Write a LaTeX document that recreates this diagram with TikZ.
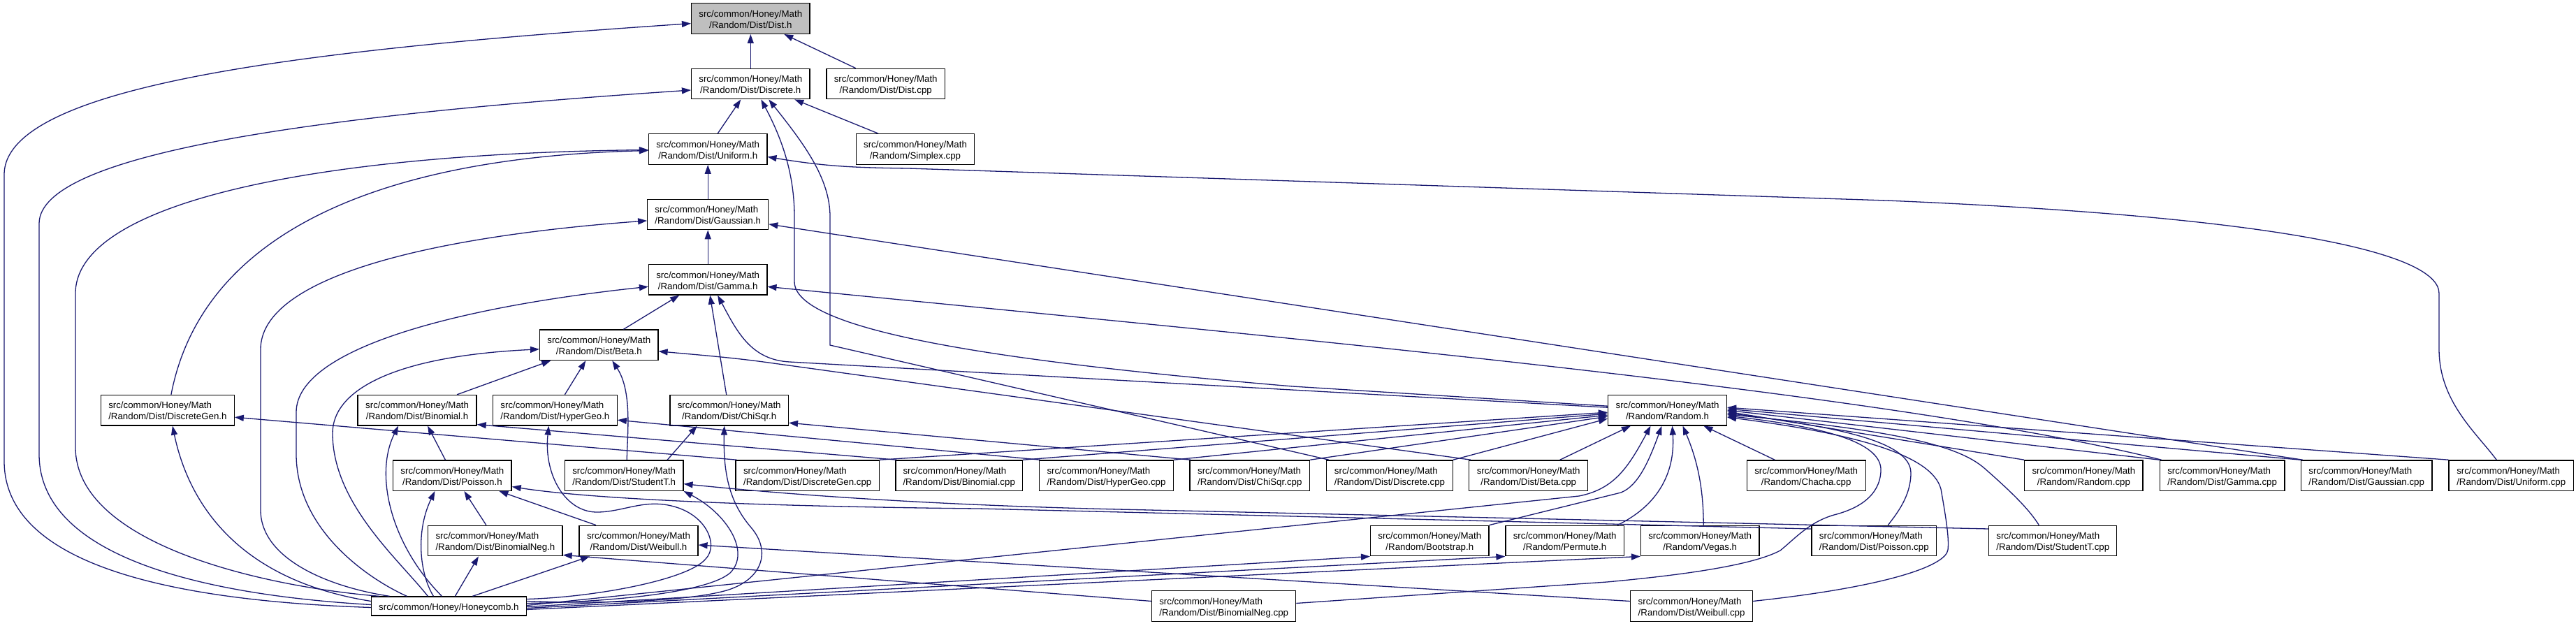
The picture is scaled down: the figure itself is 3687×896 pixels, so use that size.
\documentclass[tikz,border=0pt]{standalone}
\usepackage{fontspec}
\setmainfont{Liberation Sans}
\usetikzlibrary{arrows.meta,calc}
\definecolor{edgeblue}{RGB}{25,25,112}
\definecolor{distgray}{RGB}{191,191,191}
\newcommand\twol[2]{\raisebox{-2.5pt}[\height][\depth]{\begin{tabular}{@{}l@{}}#1\\\multicolumn{1}{@{}c@{}}{#2}\end{tabular}}}
\newcommand\onel[1]{\raisebox{-2.5pt}[\height][\depth]{#1}}
\newcommand\shm{src/common/Honey/Math}
\begin{document}
\begin{tikzpicture}[x=1pt,y=-1pt,
  box/.style={draw=black,line width=1.3pt,fill=white,inner sep=0pt,minimum height=43.5pt,font=\fontsize{13.3}{16}\selectfont},
  edge/.style={draw=edgeblue,line width=1.3pt,{Triangle[length=13pt,width=9pt]}-}]
\useasboundingbox (0,0) rectangle (3687,896);
% row 0-5
\node[box,fill=distgray,minimum width=169.4pt] (Dist) at (1074.3,26.6) {\twol{\shm}{/Random/Dist/Dist.h}};
\node[box,minimum width=169.4pt] (Discrete) at (1074.3,120.0) {\twol{\shm}{/Random/Dist/Discrete.h}};
\node[box,minimum width=169.4pt] (Distcpp) at (1267.7,120.0) {\twol{\shm}{/Random/Dist/Dist.cpp}};
\node[box,minimum width=169.3pt] (Uniform) at (1013.2,213.5) {\twol{\shm}{/Random/Dist/Uniform.h}};
\node[box,minimum width=169.3pt] (Simplex) at (1310.0,213.5) {\twol{\shm}{/Random/Simplex.cpp}};
\node[box,minimum width=172.9pt] (Gaussian) at (1013.2,306.9) {\twol{\shm}{/Random/Dist/Gaussian.h}};
\node[box,minimum width=169.3pt] (Gamma) at (1013.2,400.3) {\twol{\shm}{/Random/Dist/Gamma.h}};
\node[box,minimum width=169.4pt] (Beta) at (857.3,493.8) {\twol{\shm}{/Random/Dist/Beta.h}};
% row 6
\node[box,minimum width=190.6pt] (DiscreteGen) at (239.9,587.2) {\twol{\shm}{/Random/Dist/DiscreteGen.h}};
\node[box,minimum width=170pt] (Binomial) at (597.1,587.2) {\twol{\shm}{/Random/Dist/Binomial.h}};
\node[box,minimum width=177.6pt] (HyperGeo) at (794.4,587.2) {\twol{\shm}{/Random/Dist/HyperGeo.h}};
\node[box,minimum width=169.4pt] (ChiSqr) at (1043.7,587.2) {\twol{\shm}{/Random/Dist/ChiSqr.h}};
\node[box,minimum width=169.9pt] (Random) at (2386.5,587.2) {\twol{\shm}{/Random/Random.h}};
% row 7
\node[box,minimum width=169.4pt] (Poisson) at (647.4,680.6) {\twol{\shm}{/Random/Dist/Poisson.h}};
\node[box,minimum width=169.4pt] (StudentT) at (893.2,680.6) {\twol{\shm}{/Random/Dist/StudentT.h}};
\node[box,minimum width=205.2pt] (DiscreteGencpp) at (1155.7,680.6) {\twol{\shm}{/Random/Dist/DiscreteGen.cpp}};
\node[box,minimum width=181.6pt] (Binomialcpp) at (1372.7,680.6) {\twol{\shm}{/Random/Dist/Binomial.cpp}};
\node[box,minimum width=191.7pt] (HyperGeocpp) at (1583.5,680.6) {\twol{\shm}{/Random/Dist/HyperGeo.cpp}};
\node[box,minimum width=171.7pt] (ChiSqrcpp) at (1788.8,680.6) {\twol{\shm}{/Random/Dist/ChiSqr.cpp}};
\node[box,minimum width=180.5pt] (Discretecpp) at (1989.0,680.6) {\twol{\shm}{/Random/Dist/Discrete.cpp}};
\node[box,minimum width=169.9pt] (Betacpp) at (2187.7,680.6) {\twol{\shm}{/Random/Dist/Beta.cpp}};
\node[box,minimum width=169.9pt] (Chachacpp) at (2585.2,680.6) {\twol{\shm}{/Random/Chacha.cpp}};
\node[box,minimum width=169.3pt] (Randomcpp) at (2982.4,680.6) {\twol{\shm}{/Random/Random.cpp}};
\node[box,minimum width=178.7pt] (Gammacpp) at (3180.6,680.6) {\twol{\shm}{/Random/Dist/Gamma.cpp}};
\node[box,minimum width=187.6pt] (Gaussiancpp) at (3387.2,680.6) {\twol{\shm}{/Random/Dist/Gaussian.cpp}};
\node[box,minimum width=178.2pt] (Uniformcpp) at (3594.2,680.6) {\twol{\shm}{/Random/Dist/Uniform.cpp}};
% row 8
\node[box,minimum width=192.3pt] (BinomialNeg) at (708.9,774.0) {\twol{\shm}{/Random/Dist/BinomialNeg.h}};
\node[box,minimum width=169.9pt] (Weibull) at (914.0,774.0) {\twol{\shm}{/Random/Dist/Weibull.h}};
\node[box,minimum width=169.3pt] (Bootstrap) at (2046.3,774.0) {\twol{\shm}{/Random/Bootstrap.h}};
\node[box,minimum width=169.4pt] (Permute) at (2239.7,774.0) {\twol{\shm}{/Random/Permute.h}};
\node[box,minimum width=169.3pt] (Vegas) at (2433.2,774.0) {\twol{\shm}{/Random/Vegas.h}};
\node[box,minimum width=178.5pt] (Poissoncpp) at (2682.3,774.0) {\twol{\shm}{/Random/Dist/Poisson.cpp}};
\node[box,minimum width=183pt] (StudentTcpp) at (2938.3,774.0) {\twol{\shm}{/Random/Dist/StudentT.cpp}};
% row 9
\node[box,minimum width=221.7pt,minimum height=27pt] (Honeycomb) at (642.4,867.5) {\onel{src/common/Honey/Honeycomb.h}};
\node[box,minimum width=205.8pt] (BinomialNegcpp) at (1751.7,867.5) {\twol{\shm}{/Random/Dist/BinomialNeg.cpp}};
\node[box,minimum width=174.6pt] (Weibullcpp) at (2421.1,867.5) {\twol{\shm}{/Random/Dist/Weibull.cpp}};

% ---- Dist.h
\draw[edge] (Dist.south) -- (Discrete.north);
\draw[edge] ($(Dist.south)+(48,0)$) -- ($(Distcpp.north)+(-43,0)$);
\draw[edge] ($(Dist.west)+(0,7)$) .. controls (450,70) and (6,120) .. (6,250) -- (6,660) .. controls (6,810) and (250,860) .. ($(Honeycomb.west)+(0,2)$);
% ---- Discrete.h
\draw[edge] ($(Discrete.south)+(-14,0)$) -- ($(Uniform.north)+(14,0)$);
\draw[edge] ($(Discrete.south)+(63,0)$) -- ($(Simplex.north)+(-53,0)$);
\draw[edge] ($(Discrete.west)+(0,9)$) .. controls (450,165) and (56,220) .. (56,320) -- (56,650) .. controls (56,800) and (300,852) .. ($(Honeycomb.west)+(0,-2)$);
\draw[edge] ($(Discrete.south)+(15,0)$) .. controls (1120,200) and (1137,250) .. (1137,310) -- (1137,403) .. controls (1137,470) and (1400,515) .. (1850,553) -- ($(Random.west)+(0,-6)$);
\draw[edge] ($(Discrete.south)+(26,0)$) .. controls (1150,205) and (1188,255) .. (1188,310) -- (1188,494) -- ($(Discretecpp.north west)+(4,0)$);
% ---- Uniform.h
\draw[edge] (Uniform.south) -- (Gaussian.north);
\draw[edge] ($(Uniform.west)+(0,1)$) .. controls (450,220) and (108,290) .. (108,420) -- (108,640) .. controls (108,780) and (380,840) .. ($(Honeycomb.north west)+(12,0)$);
\draw[edge] ($(Uniform.west)+(0,2)$) .. controls (550,225) and (290,330) .. ($(DiscreteGen.north)+(5,0)$);
\draw[edge] ($(Uniform.east)+(0,11)$) .. controls (1180,238) and (1220,240) .. (1300,241) -- (2700,287) .. controls (3250,310) and (3491,360) .. (3491,420) -- (3491,500) .. controls (3491,575) and (3545,620) .. ($(Uniformcpp.north)+(-21,0)$);
% ---- Gaussian.h
\draw[edge] (Gaussian.south) -- (Gamma.north);
\draw[edge] ($(Gaussian.west)+(0,9)$) .. controls (600,340) and (373,400) .. (373,500) -- (373,730) .. controls (373,800) and (470,840) .. ($(Honeycomb.north)+(-85,0)$);
\draw[edge] ($(Gaussian.east)+(0,14)$) -- ($(Gaussiancpp.north west)+(3,0)$);
% ---- Gamma.h
\draw[edge] ($(Gamma.south)+(-41,0)$) -- ($(Beta.north)+(35,0)$);
\draw[edge] ($(Gamma.south)+(3,0)$) -- ($(ChiSqr.north)+(-4,0)$);
\draw[edge] ($(Gamma.south)+(14,0)$) .. controls (1055,475) and (1075,515) .. (1130,518) -- ($(Random.west)+(0,-4)$);
\draw[edge] ($(Gamma.west)+(0,10)$) .. controls (650,440) and (424,500) .. (424,590) -- (424,650) .. controls (424,760) and (530,830) .. ($(Honeycomb.north)+(-60,0)$);
\draw[edge] ($(Gamma.east)+(0,10)$) .. controls (1800,480) and (2700,560) .. ($(Gammacpp.north west)+(3,0)$);
% ---- Beta.h
\draw[edge] ($(Beta.south)+(-69,0)$) -- ($(Binomial.north)+(57,0)$);
\draw[edge] ($(Beta.south)+(-19,0)$) -- ($(HyperGeo.north)+(14,0)$);
\draw[edge] ($(Beta.south)+(19,0)$) .. controls (905,560) and (898,620) .. ($(StudentT.north)+(4,0)$);
\draw[edge] ($(Beta.west)+(0,6)$) .. controls (560,510) and (476,560) .. (476,620) .. controls (476,720) and (570,800) .. ($(Honeycomb.north)+(-30,0)$);
\draw[edge] ($(Beta.east)+(0,9)$) .. controls (1000,508) and (1050,512) .. (1100,519) -- ($(Betacpp.north west)+(3,0)$);
% ---- DiscreteGen.h
\draw[edge] ($(DiscreteGen.south)+(7,0)$) .. controls (270,720) and (340,830) .. ($(Honeycomb.west)+(0,-7)$);
\draw[edge] ($(DiscreteGen.east)+(0,10)$) -- ($(DiscreteGencpp.north west)+(2,0)$);
% ---- Binomial.h
\draw[edge] ($(Binomial.south)+(-27,0)$) .. controls (535,680) and (560,780) .. ($(Honeycomb.north)+(-10,0)$);
\draw[edge] ($(Binomial.south)+(15,0)$) -- ($(Poisson.north)+(-10,0)$);
\draw[edge] ($(Binomial.south east)+(0,-2)$) -- ($(Binomialcpp.north west)+(2,0)$);
% ---- HyperGeo.h
\draw[edge] ($(HyperGeo.south)+(-9,0)$) .. controls (778,680) and (810,735) .. (857,733) .. controls (890,732) and (915,718) .. (950,722) .. controls (1010,730) and (1030,780) .. (1010,800) .. controls (985,830) and (850,855) .. ($(Honeycomb.east)+(0,-10)$);
\draw[edge] ($(HyperGeo.east)+(0,14)$) -- ($(HyperGeocpp.north west)+(2,0)$);
% ---- ChiSqr.h
\draw[edge] ($(ChiSqr.south)+(-46,0)$) -- ($(StudentT.north)+(62,0)$);
\draw[edge] ($(ChiSqr.south)+(-7,0)$) .. controls (1035,680) and (1045,720) .. (1075,755) .. controls (1105,790) and (1090,830) .. (1040,845) .. controls (980,862) and (850,864) .. ($(Honeycomb.east)+(0,-7)$);
\draw[edge] ($(ChiSqr.east)+(0,18)$) -- ($(ChiSqrcpp.north west)+(2,0)$);
% ---- Poisson.h
\draw[edge] ($(Poisson.south)+(-25,0)$) .. controls (595,760) and (600,820) .. ($(Honeycomb.north)+(-22,0)$);
\draw[edge] ($(Poisson.south)+(17,0)$) -- ($(BinomialNeg.north)+(-13,0)$);
\draw[edge] ($(Poisson.south)+(67,0)$) -- ($(Weibull.north)+(-61,0)$);
\draw[edge] ($(Poisson.east)+(0,16)$) .. controls (850,715) and (1100,725) .. (1400,728) -- ($(Poissoncpp.west)+(0,-17)$);
% ---- StudentT.h
\draw[edge] (StudentT.south east) .. controls (1040,735) and (1075,790) .. (1045,820) .. controls (1010,850) and (860,862) .. ($(Honeycomb.east)+(0,-4)$);
\draw[edge] ($(StudentT.east)+(0,12)$) .. controls (1100,705) and (1300,722) .. (1600,729) -- ($(StudentTcpp.west)+(0,-17)$);
% ---- BinomialNeg.h
\draw[edge] ($(BinomialNeg.south)+(-24,0)$) -- ($(Honeycomb.north)+(9,0)$);
\draw[edge] ($(BinomialNeg.south east)+(0,-2)$) -- ($(BinomialNegcpp.west)+(0,-7)$);
% ---- Weibull.h
\draw[edge] ($(Weibull.south)+(-70,0)$) -- ($(Honeycomb.north)+(34,0)$);
\draw[edge] ($(Weibull.east)+(0,6)$) -- ($(Weibullcpp.west)+(0,-7)$);
% ---- Random.h
\draw[edge] ($(Random.south)+(-24,0)$) .. controls (2330,670) and (2310,700) .. (2260,710) -- ($(Honeycomb.east)+(0,-1)$);
\draw[edge] ($(Random.west)+(0,3)$) -- (DiscreteGencpp.north east);
\draw[edge] ($(Random.west)+(0,5)$) -- (Binomialcpp.north east);
\draw[edge] ($(Random.west)+(0,7)$) -- (HyperGeocpp.north east);
\draw[edge] ($(Random.west)+(0,9)$) -- (ChiSqrcpp.north east);
\draw[edge] ($(Random.west)+(0,12)$) -- (Discretecpp.north east);
\draw[edge] ($(Random.south west)+(33,0)$) -- ($(Betacpp.north)+(45,0)$);
\draw[edge] ($(Random.south)+(52,0)$) -- ($(Chachacpp.north)+(-45,0)$);
\draw[edge] ($(Random.east)+(0,2)$) -- (Randomcpp.north west);
\draw[edge] ($(Random.east)+(0,0)$) -- (Gammacpp.north west);
\draw[edge] ($(Random.east)+(0,-2)$) -- (Gaussiancpp.north west);
\draw[edge] ($(Random.east)+(0,-4)$) -- (Uniformcpp.north west);
\draw[edge] ($(Random.east)+(0,4)$) .. controls (2620,610) and (2735,630) .. (2735,677) .. controls (2735,710) and (2715,735) .. ($(Poissoncpp.north)+(20,0)$);
\draw[edge] ($(Random.east)+(0,6)$) .. controls (2700,615) and (2800,635) .. (2840,670) .. controls (2880,705) and (2905,730) .. ($(StudentTcpp.north)+(-20,0)$);
\draw[edge] ($(Random.east)+(0,8)$) .. controls (2620,612) and (2695,635) .. (2692,675) .. controls (2690,710) and (2660,728) .. (2625,737) .. controls (2590,747) and (2570,770) .. (2548,788) .. controls (2510,808) and (2420,822) .. (2300,833) -- ($(BinomialNegcpp.east)+(0,-4)$);
\draw[edge] ($(Random.east)+(0,10)$) .. controls (2650,620) and (2765,650) .. (2778,700) .. controls (2785,740) and (2790,770) .. (2788,787) .. controls (2785,810) and (2700,840) .. ($(Weibullcpp.east)+(0,-7)$);
\draw[edge] ($(Random.south)+(-8,0)$) .. controls (2360,660) and (2345,695) .. (2320,705) -- (Bootstrap.north east);
\draw[edge] ($(Random.south)+(7,0)$) .. controls (2398,680) and (2370,725) .. ($(Permute.north east)+(-10,0)$);
\draw[edge] ($(Random.south)+(22,0)$) .. controls (2430,660) and (2438,700) .. ($(Vegas.north)+(5,0)$);
% ---- Bootstrap, Permute, Vegas
\draw[edge] (Bootstrap.south west) -- ($(Honeycomb.east)+(0,1)$);
\draw[edge] (Permute.south west) -- ($(Honeycomb.east)+(0,3)$);
\draw[edge] (Vegas.south west) -- ($(Honeycomb.east)+(0,5)$);
\end{tikzpicture}
\end{document}
